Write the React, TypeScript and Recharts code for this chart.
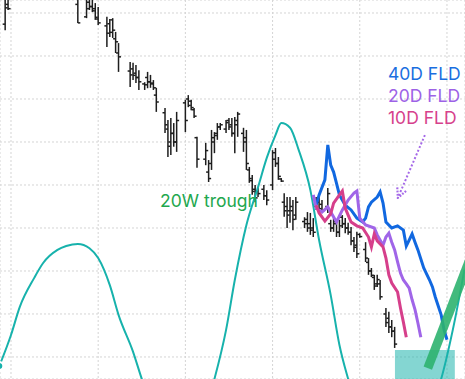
import { ComposedChart, Bar, Line, Scatter, XAxis, YAxis, CartesianGrid, ReferenceArea } from "recharts";

// daily bars: index, open, high, low, close
const barIdx = [-2, -1, 23, 26, 27, 28, 29, 30, 33, 34, 35, 36, 37, 41, 42, 43, 44, 46, 47, 48, 49, 50,
  53, 54, 55, 56, 57, 60, 61, 62, 63, 64, 67, 68, 69, 70, 71, 72, 74, 75, 76, 77, 78,
  80, 81, 82, 83, 84, 85, 87, 88, 90, 91, 92, 93, 94, 95, 96, 97, 98,
  101, 102, 103, 104, 105, 106, 107, 109, 110, 111, 112, 113, 114, 115, 116, 117, 118, 119, 120,
  122, 123, 124, 125, 126, 127, 129, 130, 131, 132];
const opens = [97.4, 102.0, 102.0, 99.1, 102.5, 101.5, 101.0, 98.6, 97.0, 97.5, 98.4, 94.0, 90.7, 86.5, 87.0, 86.0, 85.0, 83.5, 85.0, 84.0, 83.7, 80.9,
  76.8, 73.0, 70.0, 72.0, 70.0, 79.1, 80.0, 79.5, 77.5, 71.0, 66.0, 63.0, 65.0, 70.0, 72.0, 73.5, 73.0, 75.0, 74.0, 72.0, 75.0,
  72.0, 71.0, 63.5, 61.0, 59.0, 58.5, 59.0, 57.5, 60.0, 67.5, 65.0, 61.4, 56.0, 55.0, 54.0, 54.0, 53.0,
  51.5, 52.0, 51.0, 50.0, 55.0, 56.0, 55.5, 55.0, 51.0, 50.0, 51.0, 49.0, 52.5, 51.0, 50.0, 49.0, 47.0, 46.0, 48.5,
  45.0, 42.0, 40.0, 38.5, 37.0, 37.0, 30.0, 29.0, 27.0, 26.0];
const highs = [104.5, 104.5, 104.5, 104.5, 104.5, 104.5, 102.3, 101.4, 99.1, 98.6, 98.8, 95.6, 93.0, 88.6, 88.4, 87.9, 86.7, 83.9, 86.3, 85.6, 84.4, 82.6,
  77.9, 75.1, 75.6, 74.4, 77.0, 79.8, 80.9, 79.8, 77.9, 71.2, 69.8, 65.8, 72.8, 72.3, 74.4, 74.4, 75.1, 75.6, 75.6, 75.8, 77.0,
  73.3, 72.8, 64.2, 62.3, 60.0, 59.3, 60.0, 58.8, 68.1, 68.6, 66.5, 61.6, 58.1, 57.2, 57.2, 56.5, 57.2,
  52.5, 53.7, 53.5, 52.3, 57.2, 57.2, 56.5, 59.3, 51.9, 52.3, 51.9, 51.9, 53.0, 52.3, 51.2, 50.2, 47.9, 49.1, 48.8,
  46.7, 43.0, 40.7, 39.1, 39.1, 37.9, 31.4, 30.5, 28.6, 27.0];
const lows = [96.0, 100.7, 97.7, 98.8, 100.7, 100.2, 98.4, 97.2, 92.1, 94.4, 94.2, 90.7, 86.3, 82.8, 84.4, 83.7, 82.1, 82.1, 82.5, 82.6, 82.1, 77.0,
  72.1, 66.5, 67.0, 68.9, 67.7, 72.3, 78.1, 77.4, 75.6, 64.0, 64.6, 60.7, 63.5, 67.4, 70.5, 72.8, 72.1, 72.8, 71.2, 67.4, 71.2,
  67.7, 63.5, 60.5, 57.7, 56.0, 57.2, 56.5, 55.3, 58.8, 64.2, 61.2, 60.7, 52.6, 50.0, 51.2, 49.5, 51.9,
  50.0, 49.1, 48.4, 47.9, 54.2, 53.7, 53.5, 53.5, 49.1, 49.1, 47.9, 47.9, 50.0, 48.8, 48.4, 46.0, 44.4, 43.0, 47.7,
  42.1, 39.1, 38.6, 35.6, 36.3, 33.3, 27.0, 25.6, 24.6, 22.1];
const closes = [101.2, 101.0, 97.7, 101.0, 101.5, 100.5, 99.0, 97.7, 95.3, 95.5, 96.0, 93.3, 89.8, 85.6, 85.5, 85.0, 84.0, 83.3, 84.0, 83.5, 82.6, 79.3,
  74.0, 69.0, 72.0, 70.0, 75.0, 75.0, 78.5, 78.0, 76.0, 66.0, 68.0, 61.5, 71.0, 71.5, 73.5, 74.0, 74.5, 73.5, 72.0, 74.0, 76.5,
  70.0, 65.0, 61.5, 58.5, 57.0, 58.0, 57.5, 56.5, 66.0, 65.0, 62.0, 60.9, 54.0, 53.0, 55.0, 52.0, 56.0,
  51.0, 50.0, 49.5, 49.0, 56.5, 54.5, 54.0, 58.0, 50.0, 51.5, 49.0, 50.5, 51.0, 50.0, 49.0, 47.0, 45.5, 44.0, 48.0,
  43.0, 40.0, 39.0, 36.5, 38.0, 34.0, 28.0, 27.0, 26.0, 23.0];

// 20 week cycle
const cycleX = [-4, 0, 3, 8, 11, 16, 19, 23, 27, 30, 34, 37, 42, 45, 57, 70, 74, 77, 81, 85, 88, 91, 93, 96, 99, 103, 106, 110, 113, 116, 131, 148, 152, 156];
const cycleY = [17.9, 25.1, 31.6, 38.4, 41.8, 44.9, 45.8, 46.3, 45.3, 43.0, 36.7, 29.8, 21.2, 14.9, -5, 14.9, 26.3, 37.9, 50.7, 59.5, 66.3, 71.6, 74.4, 73.3, 68.1, 58.8, 47.2, 34.4, 22.8, 14.9, -5, 14.9, 26.3, 40.3];

// FLDs
const fld40X = [105, 106, 108, 109, 110, 111, 112, 113, 115, 117, 119, 121, 122, 123, 124, 126, 127, 128, 129, 131, 133, 135, 136, 138, 139, 140, 142, 144, 145, 146, 148, 149, 150];
const fld40Y = [55.3, 57.7, 61.2, 69.3, 64.6, 63.0, 60.4, 57.7, 55.3, 54.2, 52.3, 51.4, 52.3, 54.9, 56.0, 57.2, 58.4, 55.8, 51.4, 50.0, 50.5, 49.5, 45.8, 48.6, 46.7, 44.9, 40.7, 37.9, 36.3, 33.9, 29.8, 26.3, 24.0];
const fld20X = [104, 105, 107, 109, 110, 112, 114, 116, 118, 119, 120, 122, 125, 126, 128, 129, 130, 131, 132, 133, 134, 135, 136, 137, 138, 139, 140, 141];
const fld20Y = [57.7, 54.6, 53.7, 54.9, 53.7, 51.4, 54.2, 56.5, 58.1, 58.6, 52.3, 50.7, 50.0, 48.4, 46.0, 47.9, 48.8, 46.7, 44.9, 42.1, 39.5, 37.9, 37.0, 36.0, 33.3, 31.0, 27.9, 24.6];
const fld10X = [105, 106, 108, 110, 111, 113, 114, 115, 117, 119, 121, 123, 124, 125, 126, 128, 129, 130, 131, 133, 134, 135, 136];
const fld10Y = [55.3, 53.5, 51.6, 53.3, 55.8, 57.7, 58.6, 54.6, 51.4, 50.5, 50.0, 47.9, 45.6, 48.6, 47.0, 45.6, 43.0, 39.1, 37.2, 35.1, 31.4, 28.1, 24.6];

// annotations
const labelText = ["40D FLD", "20D FLD", "10D FLD", "20W trough"];
const labelColor = ["#1a6ee0", "#9d62e6", "#d6418c", "#22a74e"];
const labelX = [129.7, 129.7, 129.7, 51.3];
const labelY = [86.0, 80.7, 75.6, 56.3];
const arrowX = [142.4, 133.1];
const arrowY = [71.6, 57.0];
const greenX = [143.4, 157.9];
const greenY = [17.4, 42.8];

const xTicks = [0, 30, 60, 90, 120, 150];
const yTicks = [20, 30, 40, 50, 60, 70, 80, 90, 100];

const ohlc = barIdx.map((x, k) => ({
  x, open: opens[k], high: highs[k], low: lows[k], close: closes[k], range: [lows[k], highs[k]],
}));
const pts = (xs: number[], ys: number[]) => xs.map((x, k) => ({ x, y: ys[k] }));
const labels = labelText.map((t, k) => ({ x: labelX[k], y: labelY[k], text: t, color: labelColor[k] }));

const OhlcBar = (props: any) => {
  const { x, y, width, height, payload } = props;
  const top = Math.min(y, y + height);
  const h = Math.abs(height);
  const cx = x + width / 2;
  const span = payload.high - payload.low || 1;
  const toY = (v: number) => top + ((payload.high - v) / span) * h;
  return (
    <g stroke="#1e1e1e" strokeWidth={1.5}>
      <line x1={cx} x2={cx} y1={top} y2={top + h} />
      <line x1={cx - 2.5} x2={cx} y1={toY(payload.open)} y2={toY(payload.open)} />
      <line x1={cx} x2={cx + 2.5} y1={toY(payload.close)} y2={toY(payload.close)} />
    </g>
  );
};

const LabelShape = (props: any) => {
  const { cx, cy, payload } = props;
  return (
    <text x={cx} y={cy} fill={payload.color} fontSize={17.5} fontFamily="Inter, sans-serif"
      textAnchor="start" dominantBaseline="central">{payload.text}</text>
  );
};

export default function App() {
  return (
    <div style={{ position: "fixed", left: 0, top: 0, width: 465, height: 379, background: "#fff" }}>
      <svg width={0} height={0} style={{ position: "absolute" }}>
        <defs>
          <marker id="arrowHead" viewBox="0 0 10 10" refX="9" refY="5" markerWidth="12" markerHeight="12"
            markerUnits="userSpaceOnUse" orient="auto">
            <path d="M1 1 L9 5 L1 9" fill="none" stroke="#a569e8" strokeWidth="1.8" strokeDasharray="1.5 1.2" />
          </marker>
        </defs>
      </svg>
      <ComposedChart width={465} height={379} data={ohlc} margin={{ top: 0, right: 0, bottom: 0, left: 0 }}>
        <CartesianGrid stroke="#d4d4d4" strokeDasharray="2 2" />
        <XAxis dataKey="x" type="number" domain={[-3.78, 156.2]} ticks={xTicks} hide allowDataOverflow />
        <YAxis type="number" domain={[14.88, 103.02]} ticks={yTicks} hide allowDataOverflow />
        <Bar dataKey="range" barSize={2} shape={OhlcBar} isAnimationActive={false} />
        <Line data={pts(cycleX, cycleY)} dataKey="y" type="monotone" stroke="#17b2ac" strokeWidth={2} dot={false} isAnimationActive={false} />
        <Line data={pts(fld40X, fld40Y)} dataKey="y" type="linear" stroke="#1168e0" strokeWidth={3} dot={false} isAnimationActive={false} />
        <Line data={pts(fld20X, fld20Y)} dataKey="y" type="linear" stroke="#a065e8" strokeWidth={3} dot={false} isAnimationActive={false} />
        <Line data={pts(fld10X, fld10Y)} dataKey="y" type="linear" stroke="#d63f8b" strokeWidth={3} dot={false} isAnimationActive={false} />
        <Line data={pts(arrowX, arrowY)} dataKey="y" type="linear" stroke="#a569e8" strokeWidth={2} strokeDasharray="2 2"
          markerEnd="url(#arrowHead)" dot={false} isAnimationActive={false} />
        <ReferenceArea x1={132.1} x2={152.7} y1={10} y2={21.6} fill="#1fb5ad" fillOpacity={0.55} stroke="none" ifOverflow="visible" />
        <Line data={pts(greenX, greenY)} dataKey="y" type="linear" stroke="#2db36f" strokeOpacity={0.9} strokeWidth={9} dot={false} isAnimationActive={false} />
        <Scatter data={labels} dataKey="y" shape={LabelShape} isAnimationActive={false} />
      </ComposedChart>
    </div>
  );
}
